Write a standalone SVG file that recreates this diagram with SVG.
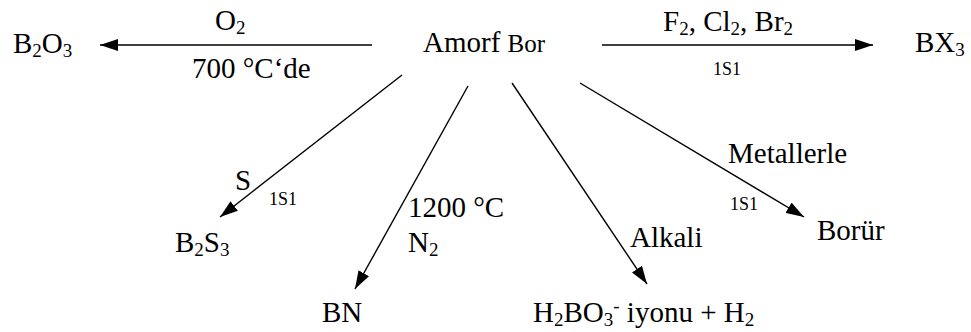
<svg xmlns="http://www.w3.org/2000/svg" width="971" height="332" viewBox="0 0 971 332" font-family="'Liberation Serif', Tinos, 'Times New Roman', 'DejaVu Serif', 'Noto Serif', serif">
  <style>
    text { font-family: "Liberation Serif", Tinos, "Times New Roman", "DejaVu Serif", serif; font-size: 29px; fill: #000; }
    .small { font-size: 18px; }
    .bor { font-size: 25px; }
    .sub { font-size: 19px; }
    .edge { stroke: #000; stroke-width: 1.4; fill: none; marker-end: url(#arrow); }
  </style>
  <defs>
    <marker id="arrow" markerUnits="userSpaceOnUse" viewBox="0 0 18 12" markerWidth="18" markerHeight="12" refX="18" refY="6" orient="auto">
      <path d="M0,0 L18,6 L0,12 z" fill="#000"/>
    </marker>
  </defs>

  <!-- reaction arrows -->
  <g id="connectors">
    <path class="edge" d="M372,45 L100,45"/>
    <path class="edge" d="M602,45 L873,45"/>
    <path class="edge" d="M402,75 L220,217"/>
    <path class="edge" d="M468,86 L355,289"/>
    <path class="edge" d="M512,83 L647,284"/>
    <path class="edge" d="M580,83 L804,217"/>
  </g>

  <!-- reagents and conditions -->
  <g id="labels">
    <text x="215" y="30">O<tspan class="sub" dy="4">2</tspan></text>
    <text x="192" y="78">700 °C‘de</text>
    <text x="663" y="31">F<tspan class="sub" dy="4">2</tspan><tspan dy="-4">, Cl</tspan><tspan class="sub" dy="4">2</tspan><tspan dy="-4">, Br</tspan><tspan class="sub" dy="4">2</tspan></text>
    <text class="small" x="713" y="75">1S1</text>
    <text x="235" y="190">S</text>
    <text class="small" x="269" y="205">1S1</text>
    <text x="408" y="217">1200 °C</text>
    <text x="408" y="252">N<tspan class="sub" dy="4">2</tspan></text>
    <text x="630" y="247">Alkali</text>
    <text x="728" y="163">Metallerle</text>
    <text class="small" x="730" y="210">1S1</text>
  </g>

  <!-- species -->
  <g id="amorf-bor">
    <text x="423" y="52">Amorf <tspan class="bor">Bor</tspan></text>
  </g>
  <g id="b2o3">
    <text x="13" y="53">B<tspan class="sub" dy="4">2</tspan><tspan dy="-4">O</tspan><tspan class="sub" dy="4">3</tspan></text>
  </g>
  <g id="bx3">
    <text x="915" y="52">BX<tspan class="sub" dy="4">3</tspan></text>
  </g>
  <g id="b2s3">
    <text x="175" y="252">B<tspan class="sub" dy="4">2</tspan><tspan dy="-4">S</tspan><tspan class="sub" dy="4">3</tspan></text>
  </g>
  <g id="bn">
    <text x="322" y="322">BN</text>
  </g>
  <g id="h2bo3">
    <text x="533" y="322">H<tspan class="sub" dy="4">2</tspan><tspan dy="-4">BO</tspan><tspan class="sub" dy="4">3</tspan><tspan class="sub" dy="-14">-</tspan><tspan dy="10"> iyonu + H</tspan><tspan class="sub" dy="4">2</tspan></text>
  </g>
  <g id="borur">
    <text x="817" y="240">Borür</text>
  </g>
</svg>
